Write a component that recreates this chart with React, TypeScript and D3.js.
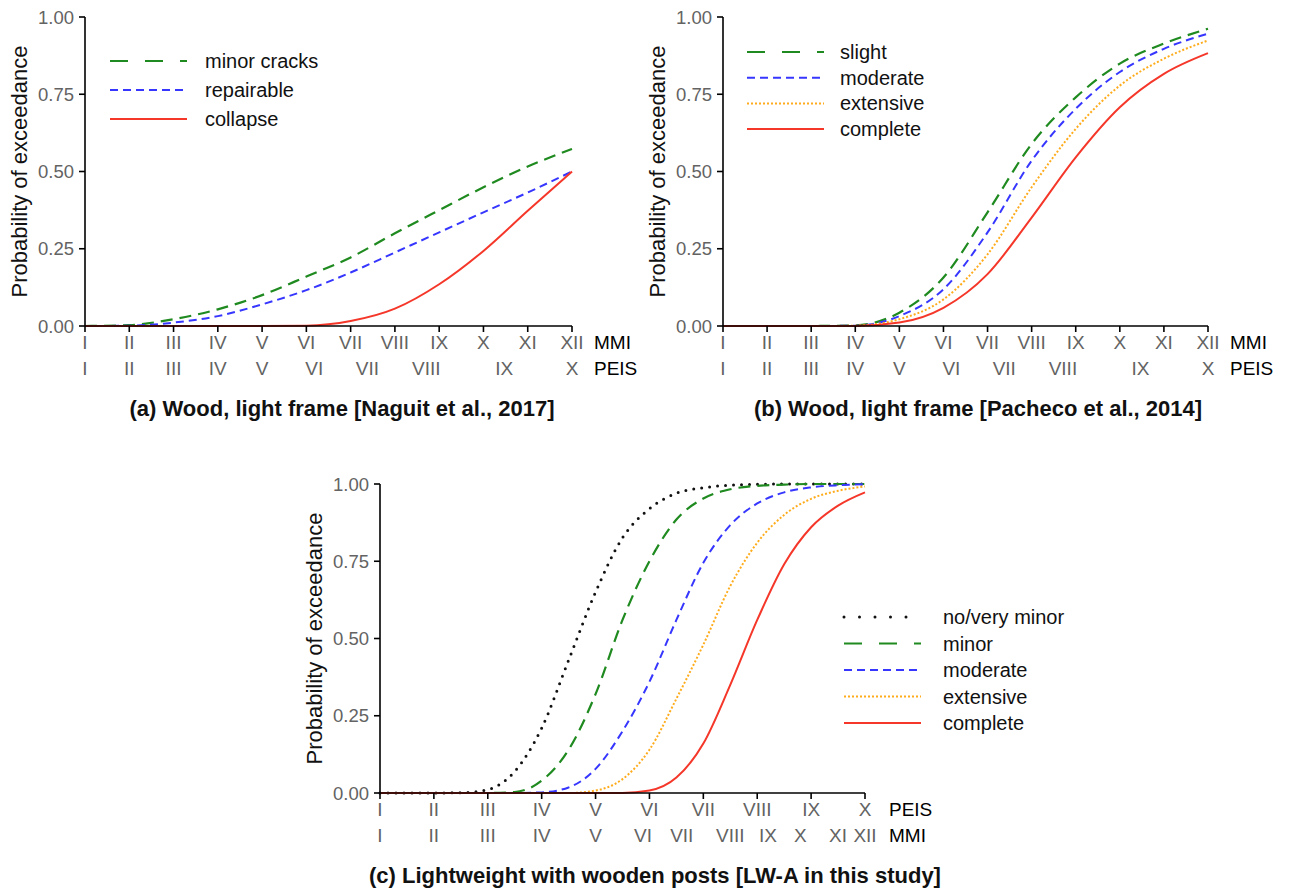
import React from 'react';
import * as d3 from 'd3';

// intensity scales
const mmiRoman = ['I', 'II', 'III', 'IV', 'V', 'VI', 'VII', 'VIII', 'IX', 'X', 'XI', 'XII'];
const peisRoman = ['I', 'II', 'III', 'IV', 'V', 'VI', 'VII', 'VIII', 'IX', 'X'];
const mmiSteps = [1, 2, 3, 4, 5, 6, 7, 8, 9, 10, 11, 12];
// where each PEIS level sits on the MMI axis, and the other way round
const peisOnMmi = [1, 2, 3, 4, 5, 6.18, 7.38, 8.71, 10.47, 12];
const mmiOnPeis = [1, 2, 3, 4, 5, 5.88, 6.6, 7.5, 8.2, 8.8, 9.5, 10];

// (a) Naguit et al., 2017, values at MMI I..XII
const naguitMinorCracks = [0, 0.003, 0.022, 0.054, 0.1, 0.16, 0.222, 0.3, 0.375, 0.449, 0.516, 0.573];
const naguitRepairable = [0, 0.001, 0.011, 0.032, 0.07, 0.116, 0.173, 0.238, 0.303, 0.368, 0.432, 0.5];
const naguitCollapse = [0, 0, 0, 0, 0, 0.001, 0.016, 0.056, 0.135, 0.243, 0.373, 0.5];

// (b) Pacheco et al., 2014, values at MMI I..XII
const pachecoSlight = [0, 0, 0, 0.002, 0.043, 0.157, 0.368, 0.589, 0.74, 0.849, 0.914, 0.962];
const pachecoModerate = [0, 0, 0, 0.001, 0.032, 0.119, 0.303, 0.535, 0.703, 0.822, 0.897, 0.946];
const pachecoExtensive = [0, 0, 0, 0.001, 0.022, 0.086, 0.232, 0.449, 0.638, 0.778, 0.865, 0.924];
const pachecoComplete = [0, 0, 0, 0, 0.011, 0.059, 0.168, 0.351, 0.546, 0.708, 0.816, 0.883];

// (c) LW-A, values at PEIS I, I.5, II ... X
const lwSteps = [1, 1.5, 2, 2.5, 3, 3.5, 4, 4.5, 5, 5.5, 6, 6.5, 7, 7.5, 8, 8.5, 9, 9.5, 10];
const lwNoVeryMinor = [0, 0, 0, 0.001, 0.011, 0.07, 0.21, 0.43, 0.65, 0.826, 0.92, 0.97, 0.988, 0.996, 0.999, 1, 1, 1, 1];
const lwMinor = [0, 0, 0, 0, 0, 0.003, 0.04, 0.14, 0.32, 0.56, 0.75, 0.885, 0.953, 0.983, 0.994, 0.998, 1, 1, 1];
const lwModerate = [0, 0, 0, 0, 0, 0, 0.002, 0.018, 0.078, 0.2, 0.36, 0.56, 0.745, 0.867, 0.937, 0.973, 0.989, 0.996, 0.999];
const lwExtensive = [0, 0, 0, 0, 0, 0, 0, 0, 0.008, 0.045, 0.14, 0.305, 0.48, 0.67, 0.81, 0.9, 0.952, 0.978, 0.992];
const lwComplete = [0, 0, 0, 0, 0, 0, 0, 0, 0, 0, 0.008, 0.05, 0.16, 0.35, 0.56, 0.74, 0.86, 0.93, 0.973];

const yTicks = [0, 0.25, 0.5, 0.75, 1];

const FONT = '"Liberation Sans", Arial, Helvetica, sans-serif';
const GREY = '#636363';

const styles = {
  green: { color: '#1f8a1f', dash: '12 7', legendDash: '18 17', width: 2.2, cap: 'butt' },
  blue: { color: '#3636ff', dash: '8 5', legendDash: '8 5', width: 2, cap: 'butt' },
  orange: { color: '#ffac1c', dash: '2 2', legendDash: '2 2', width: 2, cap: 'butt' },
  red: { color: '#f5372a', dash: null, legendDash: null, width: 2, cap: 'butt' },
  black: { color: '#111', dash: '0 8', legendDash: '0 15.5', width: 3, cap: 'round' },
};

const Panel = ({ left, right, top, bottom, domain, series, mainLabels, mainName,
  subLabels, subPos, subName, nameGap, legend, title, titleX }) => {
  const x = d3.scaleLinear().domain(domain).range([left, right]);
  const y = d3.scaleLinear().domain([0, 1]).range([bottom, top]);
  const line = d3.line().x(d => x(d[0])).y(d => y(d[1])).curve(d3.curveMonotoneX);
  const fmt = d3.format('.2f');
  const mainTicks = d3.range(domain[0], domain[1] + 1);

  return (
    <g fontFamily={FONT}>
      {series.map(s => (
        <path key={s.name} d={line(s.xs.map((v, i) => [v, s.values[i]]))} fill="none"
          stroke={s.style.color} strokeWidth={s.style.width}
          strokeDasharray={s.style.dash || undefined} strokeLinecap={s.style.cap} />
      ))}

      {/* y axis */}
      <line x1={left} x2={left} y1={top} y2={bottom} stroke="#000" strokeWidth={1.6} />
      {yTicks.map(t => (
        <g key={t}>
          <line x1={left - 6} x2={left} y1={y(t)} y2={y(t)} stroke="#000" strokeWidth={1.6} />
          <text x={left - 11} y={y(t)} dy="0.36em" textAnchor="end" fontSize={18.5} fill={GREY}>{fmt(t)}</text>
        </g>
      ))}
      <text transform={`translate(${left - 58},${(top + bottom) / 2}) rotate(-90)`} textAnchor="middle"
        fontSize={22} fill="#111">Probability of exceedance</text>

      {/* x axis */}
      <line x1={left} x2={right} y1={bottom} y2={bottom} stroke="#000" strokeWidth={1.6} />
      {mainTicks.map(t => (
        <line key={t} x1={x(t)} x2={x(t)} y1={bottom} y2={bottom + 6} stroke="#000" strokeWidth={1.6} />
      ))}
      {mainLabels.map((lab, i) => (
        <text key={lab} x={x(mainTicks[i])} y={bottom + 23} textAnchor="middle" fontSize={19} fill={GREY}>{lab}</text>
      ))}
      <text x={right + nameGap} y={bottom + 23} fontSize={19} fill="#000">{mainName}</text>
      {subLabels.map((lab, i) => (
        <text key={lab} x={x(subPos[i])} y={bottom + 49} textAnchor="middle" fontSize={19} fill={GREY}>{lab}</text>
      ))}
      <text x={right + nameGap} y={bottom + 49} fontSize={19} fill="#000">{subName}</text>

      {/* legend */}
      {series.map((s, i) => {
        const ly = legend.y + i * legend.gap;
        return (
          <g key={s.name}>
            <line x1={legend.x} x2={legend.x + 77} y1={ly} y2={ly} stroke={s.style.color}
              strokeWidth={s.style.width} strokeDasharray={s.style.legendDash || undefined}
              strokeLinecap={s.style.cap} />
            <text x={legend.x + legend.textGap} y={ly} dy="0.35em" fontSize={20} fill="#111">{s.name}</text>
          </g>
        );
      })}

      <text x={titleX} y={bottom + 90} textAnchor="middle" fontSize={22} fontWeight="bold" fill="#111">{title}</text>
    </g>
  );
};

export default function App() {
  const panelA = [
    { name: 'minor cracks', values: naguitMinorCracks, xs: mmiSteps, style: styles.green },
    { name: 'repairable', values: naguitRepairable, xs: mmiSteps, style: styles.blue },
    { name: 'collapse', values: naguitCollapse, xs: mmiSteps, style: styles.red },
  ];
  const panelB = [
    { name: 'slight', values: pachecoSlight, xs: mmiSteps, style: styles.green },
    { name: 'moderate', values: pachecoModerate, xs: mmiSteps, style: styles.blue },
    { name: 'extensive', values: pachecoExtensive, xs: mmiSteps, style: styles.orange },
    { name: 'complete', values: pachecoComplete, xs: mmiSteps, style: styles.red },
  ];
  const panelC = [
    { name: 'no/very minor', values: lwNoVeryMinor, xs: lwSteps, style: styles.black },
    { name: 'minor', values: lwMinor, xs: lwSteps, style: styles.green },
    { name: 'moderate', values: lwModerate, xs: lwSteps, style: styles.blue },
    { name: 'extensive', values: lwExtensive, xs: lwSteps, style: styles.orange },
    { name: 'complete', values: lwComplete, xs: lwSteps, style: styles.red },
  ];

  return (
    <svg width={1295} height={893} style={{ position: 'absolute', left: 0, top: 0, background: '#fff' }}>
      <Panel left={85} right={572} top={17} bottom={326} domain={[1, 12]} series={panelA}
        mainLabels={mmiRoman} mainName="MMI" subLabels={peisRoman} subPos={peisOnMmi} subName="PEIS"
        nameGap={22} legend={{ x: 110, y: 61, gap: 29, textGap: 95 }}
        title="(a) Wood, light frame [Naguit et al., 2017]" titleX={342} />
      <Panel left={723} right={1208} top={17} bottom={326} domain={[1, 12]} series={panelB}
        mainLabels={mmiRoman} mainName="MMI" subLabels={peisRoman} subPos={peisOnMmi} subName="PEIS"
        nameGap={22} legend={{ x: 747, y: 52, gap: 25.7, textGap: 93 }}
        title="(b) Wood, light frame [Pacheco et al., 2014]" titleX={978} />
      <Panel left={380} right={865} top={484} bottom={793} domain={[1, 10]} series={panelC}
        mainLabels={peisRoman} mainName="PEIS" subLabels={mmiRoman} subPos={mmiOnPeis} subName="MMI"
        nameGap={24} legend={{ x: 844, y: 617, gap: 26.5, textGap: 99 }}
        title="(c) Lightweight with wooden posts [LW-A in this study]" titleX={655} />
    </svg>
  );
}
